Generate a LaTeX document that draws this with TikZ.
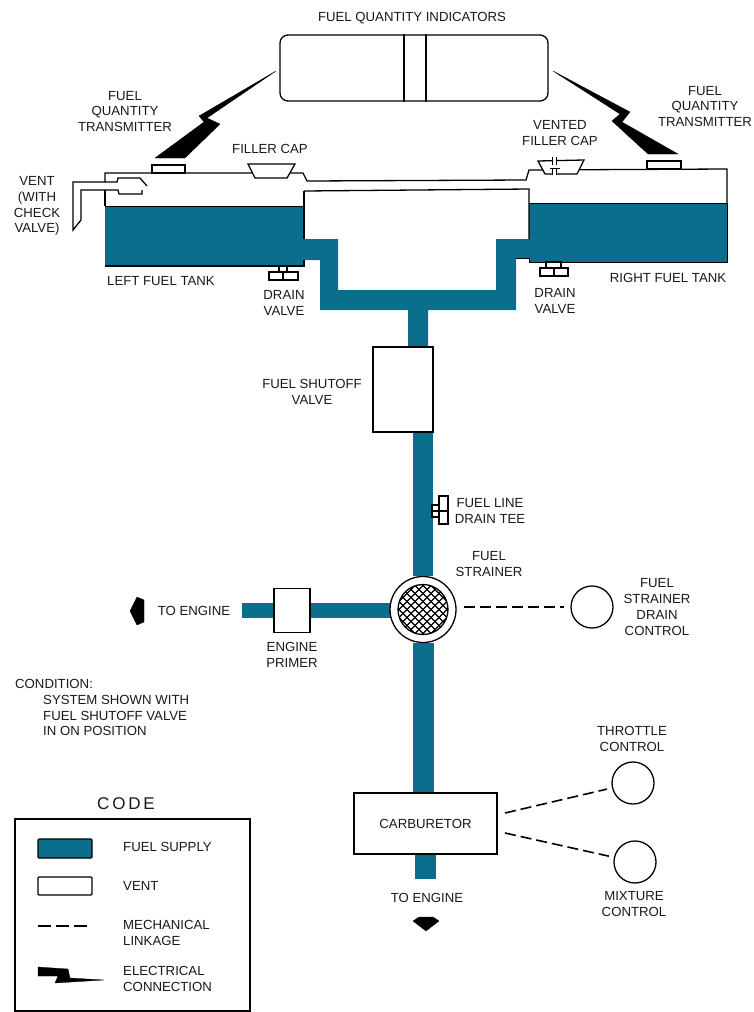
\documentclass[tikz,border=0pt]{standalone}
\usepackage{fontspec}
\setmainfont{Liberation Sans}
\usetikzlibrary{positioning, backgrounds}
\definecolor{fuelblue}{RGB}{11,110,140}
\tikzset{
	lbl/.style={font=\fontsize{13.2}{15.7}\selectfont, align=center, inner sep=0pt, text=black!90},
	lblleft/.style={lbl, align=left, anchor=west},
	part/.style={draw, line width=1.3pt, fill=white, inner sep=0pt},
	knob/.style={part, circle, minimum size=42pt},
	fuelpipe/.style={draw=fuelblue},
	linkage/.style={line width=1.6pt, dash pattern=on 11pt off 5pt},
	wall/.style={line width=1.3pt},
	thinwall/.style={line width=0.8pt},
	bolt/.style={fill=black, draw=black, line width=0.3pt, line join=round}
}
\begin{document}
\begin{tikzpicture}[x=1pt, y=-1pt]
	\useasboundingbox (0,0) rectangle (753,1012);
	
	% indicators
	\node[part, rounded corners=8pt, minimum width=268pt, minimum height=66pt] (gauge) at (414,68) {};
	\coordinate (divleft) at (404,0);
	\coordinate (divright) at (426,0);
	\draw[wall] (divleft |- gauge.north) -- (divleft |- gauge.south);
	\draw[wall] (divright |- gauge.north) -- (divright |- gauge.south);
	\node[lbl] (gaugelbl) at (412,18) {FUEL QUANTITY INDICATORS};
	
	% tanks and crossfeed
	\fill[fuelblue] (105,206) rectangle (304,265);
	\fill[fuelblue] (529,203) rectangle (727,262);
	\fill[fuelblue] (303,239) -- (338,239) -- (338,290) -- (496,290) -- (496,239) -- (530,239)
		-- (530,258) -- (516,258) -- (516,310) -- (428,310) -- (428,350) -- (408,350)
		-- (408,310) -- (320,310) -- (320,260) -- (303,260) -- cycle;
	\draw[wall] (105,182) -- (105,173) -- (303,173) -- (307,181) -- (526,180) -- (529,170) -- (727,169) -- (727,203);
	\draw[thinwall] (727,203) -- (727,262) -- (529,262);
	\draw[thinwall] (105,206) -- (304,206);
	\draw[wall] (304,191) -- (304,239);
	\draw[wall] (304,191) -- (529,189) -- (529,239);
	\draw[thinwall] (529,203) -- (727,203);
	\draw[wall] (105,190) -- (105,206);
	\draw[wall] (105,266) -- (304,266) -- (304,260);
	\draw[thinwall] (516,258) -- (529,258) -- (529,262);
	
	% vent with check valve
	\draw[wall, fill=white] (105,182) -- (73,182) -- (73,230) -- (81,220) -- (81,190) -- (118,190) -- (119,194) -- (142,194) -- (142,190);
	\draw[wall] (105,182) -- (117,182) -- (118,178) -- (140,178) -- (147,186);
	
	% caps
	\draw[wall, fill=white] (248,164) -- (295,164) -- (287,178) -- (255,178) -- cycle;
	\draw[wall, fill=white] (538,161) -- (584,160) -- (577,174) -- (545,174) -- cycle;
	\fill[white] (553,158) rectangle (556,177);
	\draw[thinwall] (552.5,157) -- (552.5,165) (552.5,168) -- (552.5,175) (556.5,157) -- (556.5,165) (556.5,168) -- (556.5,175) (550,168) -- (560,168);
	
	% transmitters
	\node[part, minimum width=33pt, minimum height=8pt] (xmtrleft) at (168.5,169) {};
	\node[part, minimum width=34pt, minimum height=8pt] (xmtrright) at (664,165) {};
	\fill[bolt] (276,71) -- (207,118) -- (220,124) -- (185,158) -- (155,158) -- (204,122) -- (199,116) -- cycle;
	\fill[bolt] (553,71) -- (630,112) -- (622,122) -- (678,154) -- (648,154) -- (612,121) -- (620,114) -- cycle;
	
	% drain valves
	\draw[wall, fill=white] (279,266) rectangle (287,272);
	\node[part, minimum width=29pt, minimum height=8pt] (drainleft) at (283.5,276) {};
	\draw[wall] (283,272) -- (283,280);
	\draw[wall, fill=white] (546,262) rectangle (561,268);
	\node[part, minimum width=28pt, minimum height=8pt] (drainright) at (554,272) {};
	\draw[wall] (554,268) -- (554,276);
	
	% fuel line parts
	\node[part, minimum width=60pt, minimum height=85pt] (valve) at (403,389.5) {};
	\node[part, circle, minimum size=66pt] (strainer) at (423,609.5) {};
	\node[part, circle, minimum size=50pt, path picture={
		\begin{scope}[shift={(path picture bounding box.center)}]
			\foreach \d in {-48,-40,...,48} {
				\draw[line width=1.1pt] ({\d-30},-30) -- ({\d+30},30);
				\draw[line width=1.1pt] ({\d-30},30) -- ({\d+30},-30);
			}
		\end{scope}
	}] (mesh) at (strainer) {};
	\node[part, minimum width=36pt, minimum height=44pt] (primer) at (292,610.5) {};
	\node[part, minimum width=143pt, minimum height=61pt] (carb) at (425.5,823.5) {};
	\coordinate (primerend) at (242,610.5);
	\coordinate (carbend) at (425.5,879);
	\begin{pgfonlayer}{background}
		\draw[fuelpipe, line width=20pt] (strainer |- valve) -- (strainer);
		\draw[fuelpipe, line width=15pt] (primerend) -- (primer);
		\draw[fuelpipe, line width=15pt] (primer) -- (primer -| strainer);
		\draw[fuelpipe, line width=21pt] (strainer) -- (strainer |- carb);
		\draw[fuelpipe, line width=21pt] (carb) -- (carbend);
	\end{pgfonlayer}
	\draw[wall, fill=white] (432,505) rectangle (439,517);
	\node[part, minimum width=9pt, minimum height=28pt] (tee) at (443.5,510) {};
	\draw[wall] (432,511) -- (448,511);
	
	% controls
	\node[knob] (drainknob) at (592,607) {};
	\node[knob] (throttle) at (633,783) {};
	\node[knob] (mixture) at (635,862) {};
	\coordinate (strainerlink) at (464,607);
	\coordinate (carbup) at (505,813);
	\coordinate (carbdown) at (505,833);
	\draw[linkage, shorten >=6pt] (strainerlink) -- (drainknob);
	\draw[linkage, shorten >=5pt] (carbup) -- (throttle);
	\draw[linkage, shorten >=5pt] (carbdown) -- (mixture);
	
	% engine arrows
	\fill[bolt] (130,611) -- (137,597) -- (144,600) -- (144,622) -- (137,625) -- cycle;
	\fill[bolt] (413,921) -- (419,917) -- (433,917) -- (439,921) -- (426,931) -- cycle;
	
	% labels
	\node[lbl] (xmtrleftlbl) at (125,111.5) {FUEL\\QUANTITY\\TRANSMITTER};
	\node[lbl] (xmtrrightlbl) at (705,106.5) {FUEL\\QUANTITY\\TRANSMITTER};
	\node[lbl] (caplbl) at (270,149) {FILLER CAP};
	\node[lbl] (ventcaplbl) at (560,133) {VENTED\\FILLER CAP};
	\node[lbl] (ventlbl) at (37,206) {VENT\\(WITH\\CHECK\\VALVE)};
	\node[lbl] (tankleftlbl) at (161,281) {LEFT FUEL TANK};
	\node[lbl] (tankrightlbl) at (668,278) {RIGHT FUEL TANK};
	\node[lbl] (drainleftlbl) at (284,303) {DRAIN\\VALVE};
	\node[lbl] (drainrightlbl) at (555,301) {DRAIN\\VALVE};
	\node[lbl] (valvelbl) at (312,392) {FUEL SHUTOFF\\VALVE};
	\node[lbl] (teelbl) at (490,511) {FUEL LINE\\DRAIN TEE};
	\node[lbl] (strainerlbl) at (489,564) {FUEL\\STRAINER};
	\node[lbl] (drainknoblbl) at (657,607) {FUEL\\STRAINER\\DRAIN\\CONTROL};
	\node[lbl] (enginelbl) at (194,611) {TO ENGINE};
	\node[lbl] (primerlbl) at (292,655) {ENGINE\\PRIMER};
	\node[lbl] (carblbl) at (carb) {CARBURETOR};
	\node[lbl] (carbenginelbl) at (427,898) {TO ENGINE};
	\node[lbl] (throttlelbl) at (632,739) {THROTTLE\\CONTROL};
	\node[lbl] (mixturelbl) at (634,904) {MIXTURE\\CONTROL};
	\node[lblleft] (condlbl) at (15,684) {CONDITION:};
	\node[lblleft] (condtext) at (43,715.5) {SYSTEM SHOWN WITH\\FUEL SHUTOFF VALVE\\IN ON POSITION};
	
	% code box
	\node[part, minimum width=235pt, minimum height=192pt] (code) at (132.5,915) {};
	\node[lbl, font=\fontsize{17}{20}\selectfont] (codelbl) at (126,804) {C\,O\,D\,E};
	\node[draw, line width=1.3pt, fill=fuelblue, rounded corners=1pt, minimum width=54pt, minimum height=19pt] (keyfuel) at (65,848.5) {};
	\node[part, rounded corners=1pt, minimum width=54pt, minimum height=18pt] (keyvent) at (65,886) {};
	\coordinate (keydashleft) at (38,926);
	\coordinate (keydashright) at (88,926);
	\draw[line width=1.5pt, dash pattern=on 13pt off 5pt] (keydashleft) -- (keydashright);
	\fill[bolt] (38,967) -- (68,969) -- (70,978) -- (104,980) -- (55,983) -- (58,976) -- (38,976) -- cycle;
	\node[lblleft] (keyfuellbl) at (123,847) {FUEL SUPPLY};
	\node[lblleft] (keyventlbl) at (123,886) {VENT};
	\node[lblleft] (keydashlbl) at (123,933) {MECHANICAL\\LINKAGE};
	\node[lblleft] (keyboltlbl) at (123,979) {ELECTRICAL\\CONNECTION};
\end{tikzpicture}
\end{document}
